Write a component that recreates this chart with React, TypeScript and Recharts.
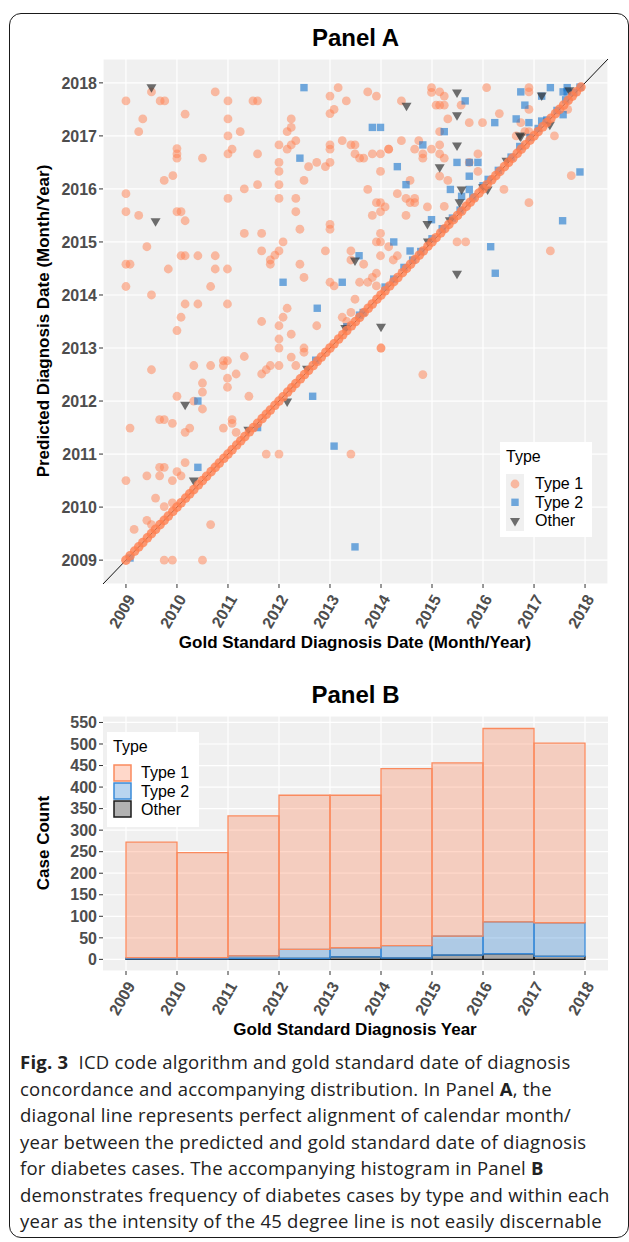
import React from "react";
import {
  ScatterChart,
  Scatter,
  BarChart,
  Bar,
  XAxis,
  YAxis,
  CartesianGrid,
  ReferenceLine,
} from "recharts";

const SANS = '"Liberation Sans", Arial, Helvetica, sans-serif';

const yearTicks = [2009, 2010, 2011, 2012, 2013, 2014, 2015, 2016, 2017, 2018];
const countTicks = [0, 50, 100, 150, 200, 250, 300, 350, 400, 450, 500, 550];

// Panel A: [gold standard date, predicted date] in decimal years
const type1Points: [number, number][] = [
  [2009.5, 2017.83], [2010.75, 2017.83], [2009.0, 2017.66], [2009.67, 2017.66], [2009.76, 2017.66],
  [2011.0, 2017.66], [2011.49, 2017.66], [2011.58, 2017.66], [2010.16, 2017.41], [2011.0, 2017.32],
  [2009.33, 2017.32], [2009.25, 2017.08], [2011.24, 2017.08], [2011.0, 2017.0], [2010.0, 2016.76],
  [2010.0, 2016.66], [2010.0, 2016.58], [2011.08, 2016.75], [2011.0, 2016.66], [2011.58, 2016.66],
  [2010.5, 2016.58], [2009.92, 2016.25], [2009.75, 2016.16], [2011.32, 2016.0], [2011.58, 2016.08],
  [2009.0, 2015.91], [2011.0, 2015.82], [2009.0, 2015.57], [2009.25, 2015.5], [2010.0, 2015.57],
  [2010.08, 2015.57], [2010.16, 2015.4], [2011.32, 2015.16], [2011.66, 2015.16],
  [2013.16, 2017.91], [2013.0, 2017.75], [2013.74, 2017.83], [2013.91, 2017.75], [2013.32, 2017.66],
  [2014.4, 2017.66], [2014.99, 2017.91], [2014.99, 2017.82], [2015.08, 2017.58], [2013.08, 2017.5],
  [2013.0, 2017.42], [2012.24, 2017.32], [2012.24, 2017.16], [2012.16, 2017.08], [2012.33, 2016.91],
  [2012.24, 2016.83], [2012.0, 2016.83], [2012.16, 2016.75], [2013.0, 2016.83], [2013.0, 2016.75],
  [2013.24, 2016.91], [2013.41, 2016.83], [2013.49, 2016.83], [2013.49, 2016.66], [2013.58, 2016.58],
  [2013.66, 2016.58], [2013.83, 2016.66], [2013.99, 2016.66], [2014.15, 2016.75], [2014.15, 2016.75],
  [2014.4, 2016.91], [2014.74, 2016.91], [2014.66, 2016.75], [2014.82, 2016.66], [2014.82, 2016.58],
  [2014.99, 2016.75], [2012.58, 2016.42], [2012.74, 2016.5], [2012.91, 2016.42], [2013.0, 2016.5],
  [2012.0, 2016.5], [2012.0, 2016.33], [2012.49, 2016.16], [2012.0, 2016.08], [2013.99, 2016.33],
  [2014.57, 2016.16], [2013.74, 2015.99], [2014.32, 2015.91], [2014.49, 2015.82], [2014.57, 2015.74],
  [2014.66, 2015.82], [2014.66, 2015.74], [2014.91, 2015.66], [2012.0, 2015.82], [2012.33, 2015.82],
  [2012.33, 2015.57], [2013.91, 2015.74], [2013.99, 2015.74], [2014.08, 2015.66], [2013.99, 2015.57],
  [2013.83, 2015.5], [2014.49, 2015.5], [2012.41, 2015.24], [2013.0, 2015.33], [2013.0, 2015.24],
  [2013.99, 2015.16],
  [2016.07, 2017.91], [2015.15, 2017.83], [2015.24, 2017.75], [2015.15, 2017.58], [2015.24, 2017.58],
  [2015.57, 2017.58], [2015.31, 2017.32], [2015.73, 2017.25], [2015.99, 2017.25], [2016.32, 2017.42],
  [2015.15, 2017.08], [2015.15, 2016.83], [2015.15, 2016.66], [2015.24, 2016.58], [2015.73, 2016.5],
  [2015.9, 2016.66], [2015.9, 2016.33], [2015.15, 2016.24], [2015.31, 2016.16], [2016.41, 2015.99],
  [2016.9, 2015.74], [2017.73, 2016.25], [2015.24, 2015.67], [2016.9, 2017.91], [2016.9, 2017.83],
  [2016.9, 2017.5], [2016.74, 2017.25], [2017.66, 2017.5], [2017.4, 2017.0], [2016.65, 2017.0],
  [2016.82, 2017.08], [2016.9, 2017.08],
  [2009.41, 2014.91], [2010.08, 2014.74], [2010.16, 2014.74], [2010.41, 2014.74], [2010.75, 2014.74],
  [2009.0, 2014.58], [2009.08, 2014.58], [2009.83, 2014.49], [2010.75, 2014.49], [2010.99, 2014.49],
  [2009.0, 2014.16], [2010.66, 2014.16], [2009.5, 2014.0], [2010.16, 2013.83], [2010.41, 2013.83],
  [2010.99, 2013.83], [2010.08, 2013.58], [2010.0, 2013.33], [2011.66, 2013.5], [2011.66, 2014.83],
  [2011.83, 2014.66], [2011.83, 2014.58], [2011.32, 2012.84], [2010.91, 2012.76], [2010.99, 2012.76],
  [2010.91, 2012.67], [2010.33, 2012.67], [2010.66, 2012.67], [2009.5, 2012.59], [2011.16, 2012.51],
  [2010.99, 2012.43], [2011.66, 2012.51], [2011.75, 2012.59], [2011.83, 2012.67], [2010.5, 2012.34],
  [2010.5, 2012.17], [2010.99, 2012.26], [2011.41, 2012.09], [2010.0, 2012.09], [2010.33, 2012.0],
  [2010.5, 2011.85],
  [2012.08, 2015.0], [2012.0, 2014.83], [2011.92, 2014.75], [2013.99, 2015.0], [2013.91, 2015.0],
  [2014.15, 2014.91], [2012.91, 2014.83], [2013.41, 2014.83], [2013.41, 2014.66], [2013.66, 2014.58],
  [2013.99, 2014.74], [2014.24, 2014.66], [2014.32, 2014.74], [2012.41, 2014.58], [2012.49, 2014.33],
  [2013.0, 2014.24], [2013.08, 2014.17], [2013.58, 2014.24], [2013.74, 2014.24], [2013.83, 2014.33],
  [2013.91, 2014.41], [2013.91, 2014.17], [2013.49, 2013.92], [2012.16, 2013.75], [2012.08, 2013.58],
  [2012.0, 2013.42], [2012.74, 2013.42], [2012.24, 2013.26], [2012.0, 2013.17], [2012.0, 2013.0],
  [2013.24, 2013.58], [2013.41, 2013.67], [2013.33, 2013.5], [2014.0, 2013.0], [2014.0, 2013.0],
  [2012.49, 2013.0], [2012.49, 2012.92], [2012.24, 2012.83], [2012.33, 2012.67], [2012.0, 2012.67],
  [2014.82, 2012.5],
  [2015.49, 2015.0], [2015.66, 2015.0], [2017.32, 2014.83],
  [2009.08, 2011.49], [2009.66, 2011.65], [2009.75, 2011.65], [2009.91, 2011.58], [2010.16, 2011.41],
  [2010.25, 2011.49], [2010.91, 2011.49], [2011.08, 2011.65], [2011.08, 2011.58], [2011.16, 2011.41],
  [2010.16, 2010.84], [2009.66, 2010.75], [2009.75, 2010.75], [2009.41, 2010.59], [2009.66, 2010.59],
  [2010.0, 2010.67], [2010.08, 2010.59], [2009.0, 2010.5], [2009.91, 2010.5], [2009.58, 2010.17],
  [2009.75, 2010.01], [2009.91, 2010.08], [2009.41, 2009.75], [2009.5, 2009.67], [2009.16, 2009.58],
  [2010.66, 2009.67], [2009.75, 2009.0], [2009.91, 2009.0], [2010.5, 2009.0], [2011.75, 2011.0],
  [2012.0, 2011.0], [2013.41, 2011.0],
];

// Type 1 cases where predicted month equals gold standard month (the 45 degree band)
const type1OnDiagonal = [
  2009.0, 2009.08, 2009.17, 2009.25, 2009.33, 2009.42, 2009.5, 2009.58, 2009.67, 2009.75, 2009.83, 2009.92,
  2010.0, 2010.08, 2010.17, 2010.25, 2010.33, 2010.42, 2010.5, 2010.58, 2010.67, 2010.75, 2010.83, 2010.92,
  2011.0, 2011.08, 2011.17, 2011.25, 2011.33, 2011.42, 2011.5, 2011.58, 2011.67, 2011.75, 2011.83, 2011.92,
  2012.0, 2012.08, 2012.17, 2012.25, 2012.33, 2012.42, 2012.5, 2012.58, 2012.67, 2012.75, 2012.83, 2012.92,
  2013.0, 2013.08, 2013.17, 2013.25, 2013.33, 2013.42, 2013.5, 2013.58, 2013.67, 2013.75, 2013.83, 2013.92,
  2014.0, 2014.08, 2014.17, 2014.25, 2014.33, 2014.42, 2014.5, 2014.58, 2014.67, 2014.75, 2014.83, 2014.92,
  2015.0, 2015.08, 2015.17, 2015.25, 2015.33, 2015.42, 2015.5, 2015.58, 2015.67, 2015.75, 2015.83, 2015.92,
  2016.0, 2016.08, 2016.17, 2016.25, 2016.33, 2016.42, 2016.5, 2016.58, 2016.67, 2016.75, 2016.83, 2016.92,
  2017.0, 2017.08, 2017.17, 2017.25, 2017.33, 2017.42, 2017.5, 2017.58, 2017.67, 2017.75, 2017.83, 2017.92,
];

const type2Points: [number, number][] = [
  [2012.49, 2017.91], [2013.83, 2017.16], [2013.99, 2017.16], [2014.82, 2016.83], [2012.41, 2016.58],
  [2014.32, 2016.42], [2014.49, 2016.08], [2014.99, 2015.42], [2015.65, 2017.66], [2016.23, 2017.25],
  [2015.24, 2017.08], [2015.49, 2016.5], [2015.73, 2016.5], [2015.9, 2016.5], [2015.73, 2016.24],
  [2017.56, 2015.4], [2017.9, 2016.32], [2015.36, 2015.99], [2015.58, 2015.86], [2015.73, 2015.99],
  [2016.74, 2017.83], [2017.32, 2017.91], [2017.65, 2017.91], [2017.57, 2017.83], [2017.65, 2017.83],
  [2017.15, 2017.75], [2016.82, 2017.58], [2016.65, 2017.32], [2016.9, 2017.25], [2017.57, 2017.4],
  [2014.25, 2015.0], [2013.57, 2014.74], [2014.57, 2014.83], [2012.08, 2014.24], [2013.24, 2014.24],
  [2012.75, 2013.75], [2012.66, 2012.09], [2016.15, 2014.91], [2016.24, 2014.41], [2010.41, 2012.0],
  [2010.41, 2010.75], [2013.08, 2011.15], [2013.49, 2009.25],
  [2009.08, 2009.04], [2011.58, 2011.5], [2012.72, 2012.77], [2013.33, 2013.4], [2013.58, 2013.62],
  [2013.65, 2013.67], [2014.08, 2014.15], [2014.25, 2014.3], [2014.45, 2014.52], [2014.62, 2014.66],
  [2014.78, 2014.82], [2015.0, 2015.06], [2015.2, 2015.25], [2015.4, 2015.45], [2015.55, 2015.6],
  [2015.8, 2015.85], [2016.0, 2016.06], [2016.1, 2016.18], [2016.3, 2016.35], [2016.55, 2016.6],
  [2016.72, 2016.8], [2016.92, 2016.97], [2017.08, 2017.14], [2017.15, 2017.28], [2017.25, 2017.3],
  [2017.45, 2017.48], [2017.62, 2017.68], [2017.78, 2017.82], [2017.9, 2017.92],
];

const otherPoints: [number, number][] = [
  [2009.5, 2017.91], [2014.5, 2017.56], [2014.91, 2015.33], [2009.58, 2015.38], [2015.49, 2017.81],
  [2015.49, 2017.38], [2015.49, 2016.81], [2015.15, 2016.4], [2015.58, 2015.98], [2015.54, 2015.74],
  [2017.15, 2017.75], [2016.72, 2017.0], [2016.46, 2016.52], [2013.49, 2014.64], [2014.0, 2013.39],
  [2012.16, 2011.98], [2015.49, 2014.39], [2010.16, 2011.92], [2010.33, 2010.49], [2016.09, 2015.98],
  [2016.74, 2016.98], [2017.31, 2017.2], [2017.69, 2017.85], [2011.4, 2011.45], [2012.55, 2012.6],
  [2013.3, 2013.37], [2014.92, 2015.0], [2015.35, 2015.4], [2016.0, 2016.02],
];

// Panel B: histogram bins (gold standard year)
const binYears = ["2009", "2010", "2011", "2012", "2013", "2014", "2015", "2016", "2017"];
const type1Counts = [268, 244, 325, 358, 354, 411, 402, 449, 417];
const type2Counts = [3, 3, 6, 21, 21, 29, 44, 74, 78];
const otherCounts = [1, 1, 2, 2, 6, 3, 10, 13, 7];

const axisRange: [number, number] = [2008.55, 2018.45];

const toXY = (pts: [number, number][]) => pts.map(([x, y]) => ({ x, y }));
const type1Data = toXY(type1Points);
const diagData = type1OnDiagonal.map((v) => ({ x: v, y: v }));
const type2Data = toXY(type2Points);
const otherData = toXY(otherPoints);

const histData = binYears.map((bin, i) => ({
  bin,
  type1: type1Counts[i],
  type2: type2Counts[i],
  other: otherCounts[i],
}));

const CORAL = "#ff7f50";
const BLUE = "#1874cd";

const DotT1 = (p: any) => (
  <circle cx={p.cx} cy={p.cy} r={4.4} fill={CORAL} fillOpacity={0.5} />
);
const DotDiag = (p: any) => (
  <circle cx={p.cx} cy={p.cy} r={4.8} fill={CORAL} fillOpacity={0.8} />
);
const DotT2 = (p: any) => (
  <rect x={p.cx - 3.7} y={p.cy - 3.7} width={7.4} height={7.4} fill={BLUE} fillOpacity={0.6} />
);
const DotOther = (p: any) => (
  <path
    d={`M${p.cx - 5},${p.cy - 3.5}L${p.cx + 5},${p.cy - 3.5}L${p.cx},${p.cy + 5}Z`}
    fill="#333"
    fillOpacity={0.7}
  />
);

function SlantLabel({ x, y, value }: { x: number; y: number; value: React.ReactNode }) {
  const ax = x + 5;
  const ay = y + 6;
  return (
    <text
      x={ax}
      y={ay}
      transform={`rotate(-60 ${ax} ${ay})`}
      textAnchor="end"
      dominantBaseline="central"
      fill="#4d4d4d"
      fontSize={16}
      fontWeight="bold"
      fontFamily={SANS}
    >
      {value}
    </text>
  );
}

function SlantTick(props: any) {
  return <SlantLabel x={props.x} y={props.y} value={props.payload.value} />;
}

// histogram ticks sit on bin edges, not bin centres
function BinEdgeTick(props: any) {
  const { x, y, payload, index } = props;
  const half = payload && typeof payload.offset === "number" && payload.offset > 0 ? payload.offset : 25.4;
  const edges = [{ px: x - half, label: yearTicks[index] }];
  if (index === binYears.length - 1) edges.push({ px: x + half, label: yearTicks[index + 1] });
  return (
    <g>
      {edges.map((e) => (
        <g key={e.label}>
          <line x1={e.px} x2={e.px} y1={y - 6} y2={y - 2} stroke="#333" />
          <SlantLabel x={e.px} y={y} value={e.label} />
        </g>
      ))}
    </g>
  );
}

// vertical grid lines on the bin edges
const binEdgeGrid = (props: any) => {
  try {
    const s = props && props.xAxis && props.xAxis.scale;
    if (!s) return [];
    const at = (v: string): number =>
      typeof s === "function" ? s(v) : typeof s.map === "function" ? s.map(v) : NaN;
    const starts = binYears.map(at);
    if (starts.some((v) => typeof v !== "number" || isNaN(v))) return [];
    const bw = typeof s.bandwidth === "function" ? s.bandwidth() : starts[1] - starts[0];
    return [...starts, starts[starts.length - 1] + bw];
  } catch (e) {
    return [];
  }
};

const yTickStyle = { fill: "#4d4d4d", fontSize: 16, fontWeight: "bold", fontFamily: SANS };

const abs = (s: React.CSSProperties): React.CSSProperties => ({ position: "absolute", ...s });

function Title({ text, top }: { text: string; top: number }) {
  return (
    <div
      style={abs({
        left: 103, width: 505, top, textAlign: "center", fontFamily: SANS,
        fontWeight: "bold", fontSize: 24, lineHeight: "28px", color: "#000",
      })}
    >
      {text}
    </div>
  );
}

function AxisTitle({ text, top }: { text: string; top: number }) {
  return (
    <div
      style={abs({
        left: 60, width: 590, top, textAlign: "center", fontFamily: SANS,
        fontWeight: "bold", fontSize: 17, lineHeight: "20px", color: "#000",
      })}
    >
      {text}
    </div>
  );
}

function YTitle({ text, cy }: { text: string; cy: number }) {
  return (
    <div
      style={abs({
        left: 44 - 250, top: cy - 10, width: 500, textAlign: "center", fontFamily: SANS,
        fontWeight: "bold", fontSize: 17, lineHeight: "20px", color: "#000",
        transform: "rotate(-90deg)",
      })}
    >
      {text}
    </div>
  );
}

const captionLines: React.ReactNode[] = [
  <>
    <b>Fig. 3</b>&nbsp; ICD code algorithm and gold standard date of diagnosis
  </>,
  <>
    concordance and accompanying distribution. In Panel <b>A</b>, the
  </>,
  <>diagonal line represents perfect alignment of calendar month/</>,
  <>year between the predicted and gold standard date of diagnosis</>,
  <>
    for diabetes cases. The accompanying histogram in Panel <b>B</b>
  </>,
  <>demonstrates frequency of diabetes cases by type and within each</>,
  <>year as the intensity of the 45 degree line is not easily discernable</>,
];

export default function App() {
  return (
    <div style={abs({ left: 0, top: 0, width: 629, height: 1242, background: "#fff", overflow: "hidden" })}>
      <div
        style={abs({
          left: 9, top: 13, width: 620, height: 1225, border: "1.5px solid #1a1a1a",
          borderRadius: 12, boxSizing: "border-box",
        })}
      />

      <Title text="Panel A" top={24} />
      <div style={abs({ left: 0, top: 0 })}>
        <ScatterChart width={629} height={660} margin={{ top: 59, right: 21, left: 43, bottom: 16 }}>
          <CartesianGrid fill="#f0f0f0" stroke="#fff" strokeWidth={1.2} />
          <XAxis
            type="number"
            dataKey="x"
            domain={axisRange}
            ticks={yearTicks}
            allowDataOverflow
            interval={0}
            height={60}
            axisLine={false}
            tickSize={4}
            tickMargin={2}
            tickLine={{ stroke: "#333" }}
            tick={<SlantTick />}
          />
          <YAxis
            type="number"
            dataKey="y"
            domain={axisRange}
            ticks={yearTicks}
            allowDataOverflow
            interval={0}
            width={60}
            axisLine={false}
            tickSize={4}
            tickMargin={2}
            tickLine={{ stroke: "#333" }}
            tick={yTickStyle}
          />
          <Scatter name="Type 1" data={type1Data} shape={DotT1} isAnimationActive={false} />
          <Scatter name="Type 2" data={type2Data} shape={DotT2} isAnimationActive={false} />
          <Scatter name="Other" data={otherData} shape={DotOther} isAnimationActive={false} />
          <Scatter name="Type 1 diagonal" data={diagData} shape={DotDiag} isAnimationActive={false} />
          <ReferenceLine
            segment={[
              { x: axisRange[0], y: axisRange[0] },
              { x: axisRange[1], y: axisRange[1] },
            ]}
            stroke="#111"
            strokeWidth={1}
          />
        </ScatterChart>
      </div>
      <YTitle text="Predicted Diagnosis Date (Month/Year)" cy={321} />
      <AxisTitle text="Gold Standard Diagnosis Date (Month/Year)" top={633} />

      <div style={abs({ left: 500, top: 442, width: 92, height: 95, background: "#fff", fontFamily: SANS, fontSize: 16, color: "#000" })}>
        <div style={abs({ left: 6, top: 6, lineHeight: "18px" })}>Type</div>
        <div style={abs({ left: 6, top: 32, width: 18, height: 57, background: "#f0f0f0" })} />
        <svg style={abs({ left: 6, top: 32 })} width={18} height={57}>
          <circle cx={9} cy={10} r={4.4} fill={CORAL} fillOpacity={0.5} />
          <rect x={5.3} y={24.6} width={7.4} height={7.4} fill={BLUE} fillOpacity={0.6} />
          <path d="M4,44L14,44L9,52.5Z" fill="#333" fillOpacity={0.7} />
        </svg>
        <div style={abs({ left: 35, top: 33, lineHeight: "18.5px" })}>
          Type 1<br />Type 2<br />Other
        </div>
      </div>

      <Title text="Panel B" top={681} />
      <div style={abs({ left: 0, top: 680 })}>
        <BarChart
          width={629}
          height={370}
          data={histData}
          margin={{ top: 36, right: 21, left: 43, bottom: 19 }}
          barCategoryGap={0}
          barGap={0}
        >
          <CartesianGrid
            fill="#f0f0f0"
            stroke="#fff"
            strokeWidth={1.2}
            verticalCoordinatesGenerator={binEdgeGrid}
          />
          <XAxis
            dataKey="bin"
            type="category"
            padding={{ left: 23, right: 23 }}
            interval={0}
            height={60}
            axisLine={false}
            tickSize={4}
            tickMargin={2}
            tickLine={false}
            tick={<BinEdgeTick />}
          />
          <YAxis
            type="number"
            domain={[-27, 565]}
            ticks={countTicks}
            allowDataOverflow
            interval={0}
            width={60}
            axisLine={false}
            tickSize={4}
            tickMargin={2}
            tickLine={{ stroke: "#333" }}
            tick={yTickStyle}
          />
          <Bar dataKey="other" stackId="h" fill="#000" fillOpacity={0.3} stroke="#1a1a1a" strokeWidth={1.3} isAnimationActive={false} />
          <Bar dataKey="type2" stackId="h" fill={BLUE} fillOpacity={0.3} stroke="#3a8ad8" strokeWidth={1.3} isAnimationActive={false} />
          <Bar dataKey="type1" stackId="h" fill={CORAL} fillOpacity={0.3} stroke="#fa8a5e" strokeWidth={1.3} isAnimationActive={false} />
        </BarChart>
      </div>
      <YTitle text="Case Count" cy={843} />
      <AxisTitle text="Gold Standard Diagnosis Year" top={1020} />

      <div style={abs({ left: 107, top: 732, width: 92, height: 95, background: "#fff", fontFamily: SANS, fontSize: 16, color: "#000" })}>
        <div style={abs({ left: 6, top: 6, lineHeight: "18px" })}>Type</div>
        <svg style={abs({ left: 6, top: 32 })} width={20} height={56}>
          <rect x={1} y={1} width={17} height={16} fill={CORAL} fillOpacity={0.3} stroke="#fa8a5e" strokeWidth={1.5} />
          <rect x={1} y={19} width={17} height={16} fill={BLUE} fillOpacity={0.3} stroke="#3a8ad8" strokeWidth={1.5} />
          <rect x={1} y={37} width={17} height={16} fill="#000" fillOpacity={0.3} stroke="#1a1a1a" strokeWidth={1.5} />
        </svg>
        <div style={abs({ left: 34, top: 32, lineHeight: "18.5px" })}>
          Type 1<br />Type 2<br />Other
        </div>
      </div>

      <div
        style={abs({
          left: 20, top: 1049, fontFamily: '"Open Sans", "Noto Sans", sans-serif', fontSize: 18.5,
          letterSpacing: "0.25px", color: "#222",
        })}
      >
        {captionLines.map((line, i) => (
          <div key={i} style={{ whiteSpace: "nowrap", lineHeight: "26.5px" }}>
            {line}
          </div>
        ))}
      </div>
    </div>
  );
}
